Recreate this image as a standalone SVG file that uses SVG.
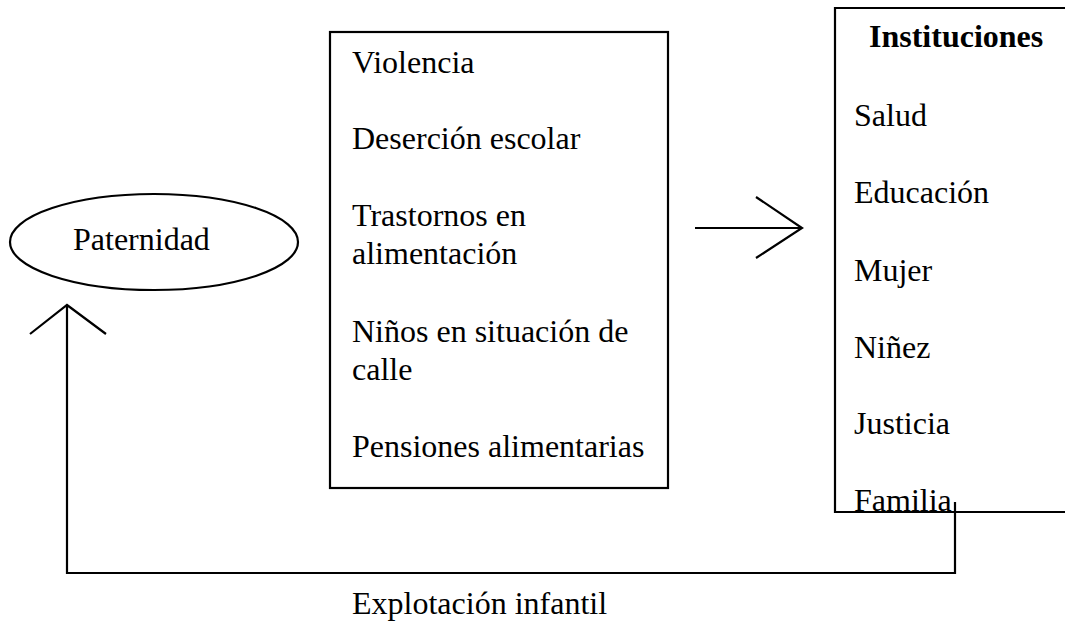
<svg xmlns="http://www.w3.org/2000/svg" width="1065" height="621" viewBox="0 0 1065 621">
<style>
.t{font-family:"Liberation Serif","Times New Roman",serif;font-size:32px;fill:#000}
.b{font-weight:bold}
.s{fill:none;stroke:#000;stroke-width:2.2}
</style>
<rect width="1065" height="621" fill="#fff"/>
<g id="paternidad">
<ellipse class="s" cx="154" cy="242" rx="144" ry="48"/>
<text class="t" x="73" y="250">Paternidad</text>
</g>
<g id="problemas">
<rect class="s" x="330" y="32" width="338" height="456"/>
<text class="t" x="352" y="73">Violencia</text>
<text class="t" x="352" y="149">Deserción escolar</text>
<text class="t" x="352" y="226">Trastornos en</text>
<text class="t" x="352" y="264">alimentación</text>
<text class="t" x="352" y="342">Niños en situación de</text>
<text class="t" x="352" y="380">calle</text>
<text class="t" x="352" y="457">Pensiones alimentarias</text>
</g>
<g id="instituciones">
<path class="s" d="M1070,8 H835 V512 H1070"/>
<text class="t b" x="869" y="47">Instituciones</text>
<text class="t" x="854" y="126">Salud</text>
<text class="t" x="854" y="203">Educación</text>
<text class="t" x="854" y="281">Mujer</text>
<text class="t" x="854" y="358">Niñez</text>
<text class="t" x="854" y="434">Justicia</text>
<text class="t" x="854" y="511">Familia</text>
</g>
<g id="connectors">
<path class="s" d="M695,228 H802 M756,197 L802,228 L756,258"/>
<path class="s" d="M955,502 V573 H67 V305 M30,334 L67,305 L106,334"/>
<text class="t" x="352" y="614">Explotación infantil</text>
</g>
</svg>
